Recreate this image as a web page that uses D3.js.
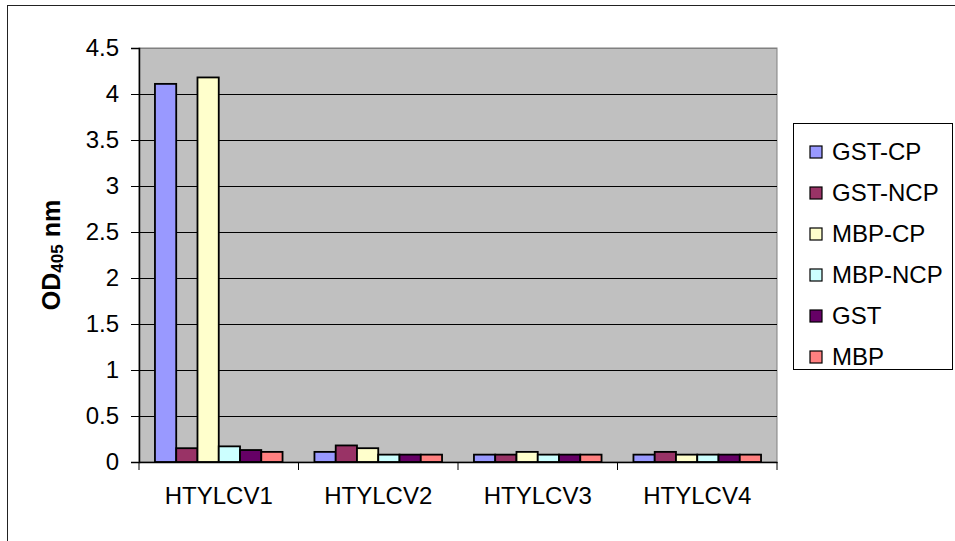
<!DOCTYPE html>
<html>
<head>
<meta charset="utf-8">
<script src="https://cdn.jsdelivr.net/npm/d3@7"></script>
<style>
  html, body { margin: 0; padding: 0; background: #fff; }
  svg { display: block; font-family: Arial, "Liberation Sans", sans-serif; }
</style>
</head>
<body>
<svg id="chart" width="955" height="541"></svg>
<script>
// Samples on the x axis
const categories = ["HTYLCV1", "HTYLCV2", "HTYLCV3", "HTYLCV4"];
// Coated antigens, one bar each per sample
const seriesNames = ["GST-CP", "GST-NCP", "MBP-CP", "MBP-NCP", "GST", "MBP"];
const seriesColors = ["#9999FF", "#993366", "#FFFFCC", "#CCFFFF", "#660066", "#FF8080"];
// OD405 readings, one array per series (values in category order)
const gstCP  = [4.11, 0.11, 0.08, 0.08];
const gstNCP = [0.15, 0.18, 0.08, 0.11];
const mbpCP  = [4.18, 0.15, 0.11, 0.08];
const mbpNCP = [0.17, 0.08, 0.08, 0.08];
const gst    = [0.13, 0.08, 0.08, 0.08];
const mbp    = [0.11, 0.08, 0.08, 0.08];
const seriesValues = [gstCP, gstNCP, mbpCP, mbpNCP, gst, mbp];
const yTicks = [0, 0.5, 1, 1.5, 2, 2.5, 3, 3.5, 4, 4.5];
const yTickLabels = ["0", "0.5", "1", "1.5", "2", "2.5", "3", "3.5", "4", "4.5"];

const FONT = "Arial, 'Liberation Sans', sans-serif";
const svg = d3.select("#chart");
const plot = { left: 139, top: 48, right: 777, bottom: 462 };

// Outer chart frame
svg.append("rect")
  .attr("x", 7.5).attr("y", 5.5).attr("width", 1000).attr("height", 600)
  .attr("fill", "none").attr("stroke", "#222").attr("stroke-width", 1);

const x0 = d3.scaleBand().domain(categories).range([plot.left, plot.right]).paddingInner(0).paddingOuter(0);
// Gap of 150% of a bar width between clusters
const groupFrac = 6 / 7.5;
const x1 = d3.scaleBand().domain(seriesNames)
  .range([0, x0.bandwidth() * groupFrac]).padding(0);
const y = d3.scaleLinear().domain([0, 4.5]).range([plot.bottom, plot.top]);

// Plot background
svg.append("rect")
  .attr("x", plot.left).attr("y", plot.top)
  .attr("width", plot.right - plot.left).attr("height", plot.bottom - plot.top)
  .attr("fill", "#C0C0C0").attr("stroke", "#808080").attr("stroke-width", 1);

// Horizontal gridlines
svg.append("g").selectAll("line")
  .data(yTicks.filter(t => t > 0))
  .join("line")
  .attr("x1", plot.left).attr("x2", plot.right)
  .attr("y1", d => Math.round(y(d)) + 0.5).attr("y2", d => Math.round(y(d)) + 0.5)
  .attr("stroke", d => d === 4.5 ? "#808080" : "#000").attr("stroke-width", 1);

// Bars
const groups = svg.append("g").selectAll("g")
  .data(categories)
  .join("g")
  .attr("transform", c => `translate(${x0(c) + x0.bandwidth() * (1 - groupFrac) / 2},0)`);

groups.selectAll("rect")
  .data((c, ci) => seriesNames.map((s, si) => ({ s, si, v: seriesValues[si][ci] })))
  .join("rect")
  .attr("x", d => x1(d.s))
  .attr("y", d => y(d.v))
  .attr("width", x1.bandwidth())
  .attr("height", d => plot.bottom - y(d.v))
  .attr("fill", d => seriesColors[d.si])
  .attr("stroke", "#000").attr("stroke-width", 1.8);

// Y axis
const yAxis = d3.axisLeft(y).tickValues(yTicks)
  .tickFormat((d, i) => yTickLabels[i]).tickSizeOuter(0).tickSize(8).tickPadding(12);
const gy = svg.append("g").attr("transform", `translate(${plot.left},0)`).call(yAxis);
gy.attr("font-size", null).attr("font-family", null);
gy.select(".domain").attr("stroke", "#000").attr("stroke-width", 1.5);
gy.selectAll(".tick line").attr("stroke", "#000");
gy.selectAll("text").style("font-size", "24px").style("font-family", FONT).attr("fill", "#000");

// X axis
const xAxis = d3.axisBottom(x0).tickSize(0).tickSizeOuter(0).tickPadding(25);
const gx = svg.append("g").attr("transform", `translate(0,${plot.bottom})`).call(xAxis);
gx.attr("font-size", null).attr("font-family", null);
gx.select(".domain").attr("stroke", "#000").attr("stroke-width", 1.5);
gx.selectAll("text").style("font-size", "24px").style("font-family", FONT).attr("fill", "#000");
// Tick marks between clusters
gx.append("g").selectAll("line")
  .data(categories.map(c => x0(c)).concat([plot.right]))
  .join("line")
  .attr("x1", d => d).attr("x2", d => d)
  .attr("y1", 0).attr("y2", 8)
  .attr("stroke", "#000");

// Y axis title with subscript
const yTitle = svg.append("text")
  .attr("transform", `translate(60,${(plot.top + plot.bottom) / 2}) rotate(-90)`)
  .attr("text-anchor", "middle")
  .style("font-size", "25px").style("font-family", FONT)
  .attr("font-weight", "bold").attr("fill", "#000");
yTitle.append("tspan").text("OD");
yTitle.append("tspan").style("font-size", "17px").attr("dy", 3).text("405");
yTitle.append("tspan").attr("dy", -3).text(" nm");

// Legend
const legend = svg.append("g");
legend.append("rect")
  .attr("x", 793.5).attr("y", 123.5).attr("width", 159).attr("height", 246)
  .attr("fill", "#fff").attr("stroke", "#000").attr("stroke-width", 1);
const items = legend.selectAll("g.item")
  .data(seriesNames)
  .join("g").attr("class", "item")
  .attr("transform", (d, i) => `translate(810,${151 + i * 41})`);
items.append("rect")
  .attr("x", 0).attr("y", -5).attr("width", 12).attr("height", 12)
  .attr("fill", (d, i) => seriesColors[i]).attr("stroke", "#000").attr("stroke-width", 1.2);
items.append("text")
  .attr("x", 22).attr("y", 1).attr("dy", "0.35em")
  .style("font-size", "24px").style("font-family", FONT).attr("fill", "#000")
  .text(d => d);
</script>
</body>
</html>
